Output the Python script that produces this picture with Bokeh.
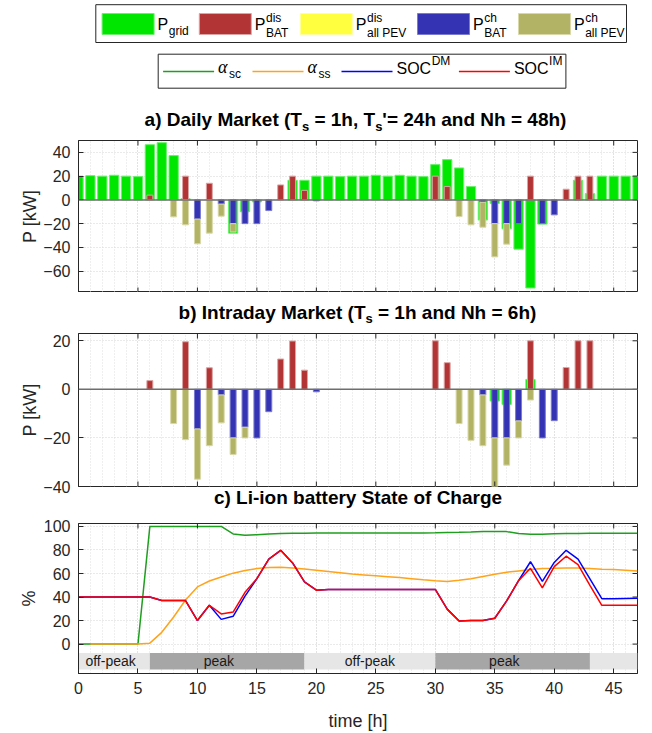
import numpy as np
from bokeh.plotting import figure
from bokeh.models import Range1d, FixedTicker, Span, Label, ColumnDataSource, Grid, Title
from bokeh.layouts import column
from bokeh.embed import file_html
from bokeh.resources import INLINE
from bokeh.core.properties import value

# ---------------- data ----------------
hours = list(range(48))
x_ticks = [0, 5, 10, 15, 20, 25, 30, 35, 40, 45]

# a) Daily market [kW]
grid_DM = [20, 20.4, 20, 20.7, 20, 19.6, 46.5, 48.2, 37.3, 1,
           0, 0, 0, -28, -10, -1.7, 0, 0, 16.5, 16.5,
           20, 20, 19.6, 20, 20, 20.7, 20, 20.7, 20, 19.6,
           29.7, 33.9, 26.9, 11.2, -17, -3, -24.4, -41.5, -74.2, -20.4,
           0, 0, 16.5, 5.3, 20, 20, 20, 20]
dis_BAT_DM = [0, 0, 0, 0, 0, 0, 4, 0, 0, 20,
              0, 14, 0, 0, 0, 0, 0, 12.6, 20, 8,
              0, 0, 0, 0, 0, 0, 0, 0, 0, 0,
              20, 11.2, 0, 0, 0, 0, 0, 0, 20, 0,
              0, 9, 20, 20, 0, 0, 0, 0]
dis_PEV_DM = [0, 0, 0, 0, 0, 0, 0, 0, 0, 0,
              0, 0, 0, 0, 0, 0, 0, 0, 0, 0,
              0, 0, 0, 0, 0, 0, 0, 0, 0, 0,
              0, 0, 0, 0, 0, 0, 0, 0, 0, 0,
              0, 0, 0, 0, 0, 0, 0, 0]
ch_BAT_DM = [0, 0, 0, 0, 0, 0, 0, 0, 0, 0,
             -16.2, 0, -3.6, -20, -20, -20, -9, 0, 0, 0,
             -0.8, 0, 0, 0, 0, 0, 0, 0, 0, 0,
             0, 0, 0, 0, -2, -20, -20, -20, 0, -20,
             -12.6, 0, 0, 0, 0, 0, 0, 0]
ch_PEV_DM = [0, 0, 0, 0, 0, 0, 0, 0, -14.3, -21,
             -20.8, -28, -10.1, -7, 0, 0, 0, 0, 0, 0,
             0, 0, 0, 0, 0, 0, 0, 0, 0, 0,
             0, 0, -14, -21, -21, -28, -17.3, 0, 0, 0,
             0, 0, 0, 0, 0, 0, 0, 0]

# b) Intraday market [kW]
grid_IM = [0, 0, 0, 0, 0, 0, 0, 0, 0, 0,
           0, 0, 0, 0, 0, 0, 0, 0, 0, 0,
           0, 0, 0, 0, 0, 0, 0, 0, 0, 0,
           0, 0, 0, 0, 0, -4.8, -6.2, 0, 4.1, 0,
           0, 0, 0, 0, 0, 0, 0, 0]
dis_BAT_IM = [0, 0, 0, 0, 0, 0, 3.6, 0, 0, 19.6,
              0, 8.9, 0, 0, 0, 0, 0, 12.5, 19.9, 7.9,
              0, 0, 0, 0, 0, 0, 0, 0, 0, 0,
              20, 11, 0, 0, 0, 0, 0, 0, 20, 0,
              0, 9, 20, 20, 0, 0, 0, 0]
dis_PEV_IM = [0, 0, 0, 0, 0, 0, 0, 0, 0, 0,
              0, 0, 0, 0, 0, 0, 0, 0, 0, 0,
              0, 0, 0, 0, 0, 0, 0, 0, 0, 0,
              0, 0, 0, 0, 0, 0, 0, 0, 0, 0,
              0, 0, 0, 0, 0, 0, 0, 0]
ch_BAT_IM = [0, 0, 0, 0, 0, 0, 0, 0, 0, 0,
             -16.3, 0, -2.3, -20, -15.6, -20, -9.2, 0, 0, 0,
             -1, 0, 0, 0, 0, 0, 0, 0, 0, 0,
             0, 0, 0, 0, -2.3, -20, -20, -13, 0, -20,
             -12.9, 0, 0, 0, 0, 0, 0, 0]
ch_PEV_IM = [0, 0, 0, 0, 0, 0, 0, 0, -14.1, -20.7,
             -20.7, -23.2, -11.5, -6.8, -4.4, 0, 0, 0, 0, 0,
             0, 0, 0, 0, 0, 0, 0, 0, 0, 0,
             0, 0, -14.1, -21, -20.9, -20, -11.2, -7, -4.4, 0,
             0, 0, 0, 0, 0, 0, 0, 0]

# c) State of charge [%]
alpha_sc = [0, 0, 0, 0, 0, 0, 100, 100, 100, 100,
            100, 100, 100, 93.6, 92.5, 93, 93.6, 94, 94.2, 94.3,
            94.4, 94.4, 94.4, 94.4, 94.4, 94.4, 94.4, 94.4, 94.4, 94.5,
            94.6, 94.8, 95, 95.3, 95.7, 95.8, 95.6, 94, 93.3, 93.4,
            93.8, 94, 94.1, 94.2, 94.2, 94.2, 94.2, 94.2]
alpha_ss = [float("nan"), 0, 0, 0, 0, 0, 0.8, 10, 23, 37.5,
            48.6, 53.6, 57, 60.3, 62.5, 64.2, 65, 65.3, 64.7, 63.9,
            62.8, 61.7, 60.6, 59.5, 58.8, 58.1, 57.3, 56.5, 55.6, 54.7,
            53.9, 53.3, 54.2, 55.6, 57.5, 59.4, 61.1, 62.2, 63.3, 64.2,
            64.4, 64.7, 64.6, 64.3, 63.6, 63.3, 62.8, 62.2]
soc_DM = [40, 40, 40, 40, 40, 40, 40, 37, 37, 37,
          20, 33, 21, 23.6, 40.8, 55.6, 72.2, 79.7, 69, 52.8,
          45.8, 46.5, 46.5, 46.5, 46.5, 46.5, 46.5, 46.5, 46.5, 46.5,
          46.5, 29.7, 19.7, 20, 20, 22, 36.7, 53.9, 70, 53.3,
          69.4, 79.7, 72.2, 55.5, 38.6, 38.6, 38.8, 39]
soc_IM = [40, 40, 40, 40, 40, 40, 40, 37, 37, 37,
          20, 33, 25.6, 27.2, 44, 55.6, 72.2, 79.7, 69, 52.8,
          45.8, 46.5, 46.5, 46.5, 46.5, 46.5, 46.5, 46.5, 46.5, 46.5,
          46.5, 29.7, 19.7, 20, 20, 22, 36.7, 53.9, 64.4, 47.8,
          65.8, 74.7, 67.5, 50, 33, 33, 33, 33]

band_start = [0, 6, 19, 30, 43]
band_end = [6, 19, 30, 43, 47]
band_kind = ["off-peak", "peak", "off-peak", "peak", "off-peak"]
band_label_x = [2.7, 11.8, 24.5, 35.8]
band_labels = ["off-peak", "peak", "off-peak", "peak"]

# ---------------- style ----------------
FONT = "Liberation Sans"
TXT = "#262626"
C_GRID, E_GRID = "#00e600", "#6cf06c"
C_DBAT, E_DBAT = "#b23434", "#dca4a4"
C_DPEV, E_DPEV = "#ffff40", "#ffffa0"
C_CBAT, E_CBAT = "#3333b3", "#7a7ad0"
C_CPEV, E_CPEV = "#b3b366", "#d8d8a8"
C_SC, C_SS, C_DM, C_IM = "#1f9e1f", "#ffa31a", "#0000ff", "#ff0000"
BAND_COL = {"off-peak": "#e6e6e6", "peak": "#a6a6a6"}

W_REG = {' ': 278, '(': 333, ')': 333, '[': 278, ']': 278, '-': 333, '%': 889, "'": 191,
         '=': 584, ',': 278, '.': 278}
W_BOLD = {' ': 278, '(': 333, ')': 333, "'": 238, '=': 584, ',': 278, '-': 333, '.': 278}
for ch in "0123456789":
    W_REG[ch] = 556
    W_BOLD[ch] = 556
W_REG.update(dict(zip("abcdefghijklmnopqrstuvwxyz",
                      [556, 556, 500, 556, 556, 278, 556, 556, 222, 222, 500, 222, 833, 556, 556,
                       556, 556, 333, 500, 278, 556, 500, 722, 500, 500, 500])))
W_BOLD.update(dict(zip("abcdefghijklmnopqrstuvwxyz",
                       [556, 611, 556, 611, 556, 333, 611, 611, 278, 278, 556, 278, 889, 611, 611,
                        611, 611, 389, 556, 333, 611, 556, 778, 556, 556, 500])))
UPPER = dict(zip("ABCDEFGHIJKLMNOPQRSTUVWXYZ",
                 [667, 667, 722, 722, 667, 611, 778, 722, 278, 500, 667, 556, 833, 722, 778,
                  667, 778, 722, 667, 611, 722, 667, 944, 667, 667, 611]))
W_REG.update(UPPER)
W_BOLD.update(UPPER)
W_BOLD.update({'A': 722, 'B': 722, 'K': 722, 'L': 611, 'J': 556})


def tw(s, size, bold=False):
    t = W_BOLD if bold else W_REG
    return sum(t.get(c, 556) for c in s) * size / 1000.0


FIG_W = 652
X_RANGE = (0, 47)
B_LEFT, B_RIGHT = 78, 15
FRAME_W = FIG_W - B_LEFT - B_RIGHT
TICK_PX = 5


def style_panel(p, yr, fh, yticks, ylabel, show_x, xlabel=None, ylab_standoff=0):
    xt = FixedTicker(ticks=x_ticks, minor_ticks=hours)
    yt = FixedTicker(ticks=yticks)
    p.outline_line_color = TXT
    p.outline_line_width = 1
    if not p.xgrid:
        p.add_layout(Grid(dimension=0, ticker=xt))
    if not p.ygrid:
        p.add_layout(Grid(dimension=1, ticker=yt))
    p.xgrid[0].ticker = xt
    p.ygrid[0].ticker = yt
    for g in (p.xgrid[0], p.ygrid[0]):
        g.grid_line_color = "#d4d4d4"
        g.grid_line_dash = "1 2"
        g.grid_line_width = 1
    p.xgrid[0].minor_grid_line_color = "#dedede"
    p.xgrid[0].minor_grid_line_dash = "1 2"

    ax = p.yaxis[0]
    ax.ticker = yt
    ax.major_tick_in = TICK_PX
    ax.major_tick_out = 0
    ax.minor_tick_line_color = None
    ax.axis_line_color = TXT
    ax.major_tick_line_color = TXT
    ax.major_label_text_font = FONT
    ax.major_label_text_font_size = "16px"
    ax.major_label_text_color = TXT
    ax.major_label_standoff = 8
    ax.axis_label = ylabel
    ax.axis_label_text_font = FONT
    ax.axis_label_text_font_size = "18px"
    ax.axis_label_text_font_style = "normal"
    ax.axis_label_text_color = TXT
    ax.axis_label_standoff = ylab_standoff

    # inward tick marks on the sides without a labelled axis
    dy = TICK_PX * (yr[1] - yr[0]) / fh
    dx = TICK_PX * (X_RANGE[1] - X_RANGE[0]) / FRAME_W
    p.segment(x0=x_ticks, x1=x_ticks, y0=yr[1], y1=yr[1] - dy, line_color=TXT, line_width=1)
    p.segment(x0=X_RANGE[1], x1=X_RANGE[1] - dx, y0=yticks, y1=yticks, line_color=TXT, line_width=1)
    if show_x:
        bx = p.xaxis[0]
        bx.ticker = xt
        bx.major_tick_in = TICK_PX
        bx.major_tick_out = 0
        bx.minor_tick_line_color = None
        bx.axis_line_color = TXT
        bx.major_tick_line_color = TXT
        bx.major_label_text_font = FONT
        bx.major_label_text_font_size = "16px"
        bx.major_label_text_color = TXT
        bx.major_label_standoff = 4
        bx.axis_label = xlabel
        bx.axis_label_text_font = FONT
        bx.axis_label_text_font_size = "18px"
        bx.axis_label_text_font_style = "normal"
        bx.axis_label_text_color = TXT
        bx.axis_label_standoff = 14
    else:
        p.segment(x0=x_ticks, x1=x_ticks, y0=yr[0], y1=yr[0] + dy, line_color=TXT, line_width=1)


def lab(fig, x, y_base, t, size, font=FONT, style="normal", color="black"):
    # y_base is the alphabetic baseline; place by the middle of the em box
    fig.add_layout(Label(x=x, y=y_base - 0.35 * size, text=t, text_font=font,
                         text_font_size=f"{size}px", text_font_style=style,
                         text_baseline="middle", text_align="left", text_color=color))


def strip(y0, y1):
    # a text strip whose data coordinates equal window pixels (frame spans x 78..637)
    s = figure(width=FIG_W, height=y1 - y0, x_range=Range1d(B_LEFT, FIG_W - B_RIGHT),
               y_range=Range1d(y1, y0),
               output_backend="svg", toolbar_location=None,
               min_border_left=B_LEFT, min_border_right=B_RIGHT, min_border_top=0, min_border_bottom=0,
               x_axis_location=None, y_axis_location=None)
    s.outline_line_color = None
    s.xgrid.visible = False
    s.ygrid.visible = False
    return s


def rich_title(s, segs, center_x, base_y):
    total = sum(tw(t, sz, True) for t, sz, dy in segs)
    x = center_x - total / 2.0
    for t, sz, dy in segs:
        stripped = t.lstrip(" ")
        lead = tw(t[:len(t) - len(stripped)], sz, True)
        lab(s, x + lead, base_y + dy, stripped.rstrip(" "), sz, style="bold")
        x += tw(t, sz, True)


def bar_panel(fh, b_top, b_bottom, yr, yticks, grid, dbat, dpev, cbat, cpev):
    p = figure(width=FIG_W, height=b_top + fh + b_bottom, x_range=Range1d(*X_RANGE), y_range=Range1d(*yr),
               output_backend="svg", toolbar_location=None, x_axis_location=None,
               min_border_left=B_LEFT, min_border_right=B_RIGHT, min_border_top=b_top,
               min_border_bottom=b_bottom)
    h = np.array(hours, dtype=float)
    g = np.array(grid, dtype=float)
    db = np.array(dbat, dtype=float)
    dp = np.array(dpev, dtype=float)
    cb = np.array(cbat, dtype=float)
    cp = np.array(cpev, dtype=float)

    def add(bottom, top, width, fill, edge):
        m = np.abs(top - bottom) > 1e-9
        src = ColumnDataSource(dict(x=h[m], b=bottom[m], t=top[m]))
        p.vbar(x="x", bottom="b", top="t", width=width, source=src,
               fill_color=fill, line_color=edge, line_width=1)

    zero = np.zeros_like(h)
    add(zero, g, 0.78, C_GRID, E_GRID)
    add(zero, db, 0.5, C_DBAT, E_DBAT)
    add(db, db + dp, 0.5, C_DPEV, E_DPEV)
    add(zero, cb, 0.5, C_CBAT, E_CBAT)
    add(cb, cb + cp, 0.5, C_CPEV, E_CPEV)
    p.add_layout(Span(location=0, dimension="width", line_color="#6e6e6e", line_width=1.5))
    style_panel(p, yr, fh, yticks, "P [kW]", False)
    return p


# ---------------- top strip: legends + title a ----------------
s1 = strip(0, 140)
s1.quad(left=[95.3], right=[626], top=[4.2], bottom=[42], fill_color="white",
        line_color=TXT, line_width=1)
sw_left = [101.6, 198.8, 299.8, 417, 518]
sw_w = 52
sw_fill = [C_GRID, C_DBAT, C_DPEV, C_CBAT, C_CPEV]
sw_edge = [E_GRID, E_DBAT, E_DPEV, E_CBAT, E_CPEV]
s1.quad(left=sw_left, right=[v + sw_w for v in sw_left], top=13, bottom=34,
        fill_color=sw_fill, line_color=sw_edge, line_width=1)
leg1_sup = ["", "dis", "dis", "ch", "ch"]
leg1_sub = ["grid", "BAT", "all PEV", "BAT", "all PEV"]
for xl, sup, sub in zip(sw_left, leg1_sup, leg1_sub):
    x0 = xl + sw_w + 3.5
    lab(s1, x0, 29.8, "P", 16)
    x1 = x0 + tw("P", 16) + 0.5
    if sup:
        lab(s1, x1, 21.8, sup, 12)
        lab(s1, x1, 36.8, sub, 12)
    else:
        lab(s1, x1, 34.5, sub, 12)

s1.quad(left=[157.7], right=[565.4], top=[53.7], bottom=[87.7], fill_color="white",
        line_color=TXT, line_width=1)
ln_left = [162.6, 252, 341, 458.4]
ln_w = 51
ln_col = [C_SC, C_SS, C_DM, C_IM]
s1.segment(x0=ln_left, x1=[v + ln_w for v in ln_left], y0=71, y1=71, line_color=ln_col, line_width=1.5)
for xl, sub in zip(ln_left[:2], ["sc", "ss"]):
    x0 = xl + ln_w + 4
    lab(s1, x0, 73, "α", 18, font="Liberation Serif", style="italic")
    lab(s1, x0 + 11, 77.3, sub, 12)
for xl, sup in zip(ln_left[2:], ["DM", "IM"]):
    x0 = xl + ln_w + 4
    lab(s1, x0, 74, "SOC", 16)
    lab(s1, x0 + tw("SOC", 16) + 0.5, 65, sup, 12)

rich_title(s1, [("a) Daily Market (T", 19, 0), ("s", 13, 4.5), (" = 1h, T", 19, 0),
                ("s", 13, 4.5), ("'= 24h and Nh = 48h)", 19, 0)], 355, 125.7)

# ---------------- panel a ----------------
pa = bar_panel(152, 0, 0, (-78, 50), [-60, -40, -20, 0, 20, 40],
               grid_DM, dis_BAT_DM, dis_PEV_DM, ch_BAT_DM, ch_PEV_DM)

# ---------------- title b ----------------
s2 = strip(292, 330)
rich_title(s2, [("b) Intraday Market (T", 19, 0), ("s", 13, 4.5),
                (" = 1h and Nh = 6h)", 19, 0)], 357, 318.3)

# ---------------- panel b (its lower border carries title c) ----------------
pb = bar_panel(153, 3, 31, (-40, 23), [-40, -20, 0, 20],
               grid_IM, dis_BAT_IM, dis_PEV_IM, ch_BAT_IM, ch_PEV_IM)
pb.add_layout(Title(text="c) Li-ion battery State of Charge", text_font=FONT, text_font_size="19px",
                    text_font_style="bold", text_color="black", align="center",
                    vertical_align="top", standoff=0), "below")

# ---------------- panel c ----------------
YR_C = (-25, 102.5)
pc = figure(width=FIG_W, height=216, x_range=Range1d(*X_RANGE), y_range=Range1d(*YR_C),
            output_backend="svg", toolbar_location=None,
            min_border_left=B_LEFT, min_border_right=B_RIGHT, min_border_top=6, min_border_bottom=57)
pc.quad(left=band_start, right=band_end, bottom=-21.5, top=-7.5,
        fill_color=[BAND_COL[k] for k in band_kind], line_color=None)
pc.text(x=band_label_x, y=-14.5, text=band_labels, text_font=value(FONT), text_font_size="14px",
        text_align="center", text_baseline="middle", text_color="#1a1a1a")
pc.line(hours, alpha_sc, line_color=C_SC, line_width=1.5)
pc.line(hours, alpha_ss, line_color=C_SS, line_width=1.5)
pc.line(hours, soc_DM, line_color=C_DM, line_width=1.5)
pc.line(hours, soc_IM, line_color=C_IM, line_width=1.5)
style_panel(pc, YR_C, 153, [0, 20, 40, 60, 80, 100], "%", True, "time [h]", ylab_standoff=2)

layout = column(s1, pa, s2, pb, pc, spacing=0)
open("out.html", "w").write(file_html(layout, INLINE))
